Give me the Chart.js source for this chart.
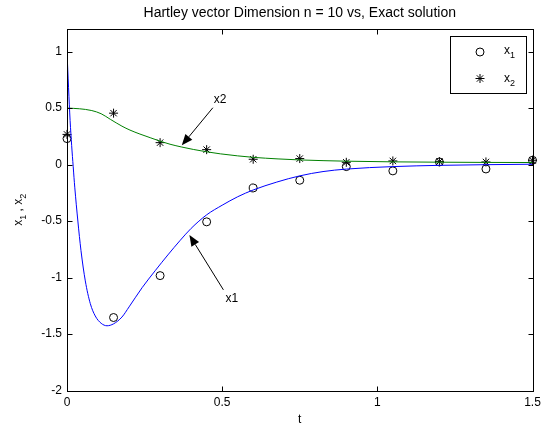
<!DOCTYPE html>
<html><head><meta charset="utf-8">
<script src="https://cdn.jsdelivr.net/npm/chart.js@4.4.1/dist/chart.umd.min.js"></script>
<style>html,body{margin:0;padding:0;background:#fff;}#wrap{width:547px;height:426px;}</style>
</head><body><div id="wrap"><canvas id="c" width="547" height="426"></canvas></div>
<script>
const chartTitle = 'Hartley vector Dimension n = 10 vs, Exact solution';
const xAxisLabel = 't';
const xTicks = [0, 0.5, 1, 1.5];
const yTicks = [-2, -1.5, -1, -0.5, 0, 0.5, 1];
const xRange = [0, 1.5];
const yRange = [-2, 1.2];

// Hartley approximation samples (markers)
const tSamples = [0, 0.15, 0.3, 0.45, 0.6, 0.75, 0.9, 1.05, 1.2, 1.35, 1.5];
const x1Approx = [0.23, -1.354, -0.983, -0.507, -0.207, -0.139, -0.018, -0.056, 0.023, -0.039, 0.038];
const x2Approx = [0.267, 0.455, 0.194, 0.132, 0.047, 0.053, 0.02, 0.032, 0.026, 0.023, 0.038];

// Exact solution curves
const tExact1 = [0, 0.005, 0.01, 0.015, 0.02, 0.025, 0.035, 0.045, 0.059, 0.075, 0.091, 0.11, 0.129, 0.15, 0.177, 0.2, 0.242, 0.284, 0.325, 0.365, 0.4, 0.45, 0.5, 0.55, 0.6, 0.676, 0.75, 0.825, 0.9, 1.05, 1.2, 1.35, 1.5];
const x1Exact = [1.0, 0.68, 0.39, 0.17, -0.02, -0.2, -0.5, -0.76, -1.03, -1.23, -1.34, -1.405, -1.427, -1.41, -1.35, -1.26, -1.09, -0.94, -0.8, -0.67, -0.565, -0.445, -0.36, -0.285, -0.225, -0.155, -0.1, -0.062, -0.04, -0.018, -0.007, -0.001, 0.003];
const tExact2 = [0, 0.04, 0.08, 0.11, 0.14, 0.177, 0.203, 0.235, 0.268, 0.3, 0.332, 0.37, 0.407, 0.45, 0.494, 0.55, 0.6, 0.68, 0.75, 0.9, 1.05, 1.2, 1.35, 1.5];
const x2Exact = [0.5, 0.494, 0.478, 0.45, 0.40, 0.34, 0.305, 0.27, 0.238, 0.207, 0.18, 0.155, 0.134, 0.113, 0.095, 0.077, 0.064, 0.05, 0.041, 0.03, 0.024, 0.021, 0.019, 0.018];

const seriesNames = ['x1', 'x2'];
const annotations = [
  {text: 'x2', label: [0.4935, 0.576], tail: [0.47, 0.503], tip: [0.37, 0.17]},
  {text: 'x1', label: [0.531, -1.183], tail: [0.504, -1.109], tip: [0.3945, -0.624]}
];

const FONT = "'Liberation Sans', Arial, Helvetica, sans-serif";
const pts = (xs, ys) => xs.map((v, i) => ({x: v, y: ys[i]}));

function drawSubText(ctx, parts, x, y, align) {
  const main = '12px ' + FONT, sub = '9px ' + FONT;
  let w = 0;
  parts.forEach(p => { ctx.font = p[1] ? sub : main; w += ctx.measureText(p[0]).width; });
  let cx = align === 'center' ? x - w / 2 : x;
  ctx.textAlign = 'left'; ctx.textBaseline = 'alphabetic';
  parts.forEach(p => {
    ctx.font = p[1] ? sub : main;
    ctx.fillText(p[0], cx, y + (p[1] ? 4 : 0));
    cx += ctx.measureText(p[0]).width;
  });
}

function drawStar(ctx, x, y, r) {
  ctx.beginPath();
  ctx.moveTo(x - r, y); ctx.lineTo(x + r, y);
  ctx.moveTo(x, y - r); ctx.lineTo(x, y + r);
  const d = r * Math.SQRT1_2;
  ctx.moveTo(x - d, y - d); ctx.lineTo(x + d, y + d);
  ctx.moveTo(x - d, y + d); ctx.lineTo(x + d, y - d);
  ctx.stroke();
}

const decor = {
  id: 'decor',
  afterDraw(chart) {
    const {ctx, chartArea: a, scales: {x, y}} = chart;
    ctx.save();
    ctx.strokeStyle = '#000'; ctx.fillStyle = '#000'; ctx.lineWidth = 1;
    const L = Math.round(a.left) + 0.5, R = Math.round(a.right) + 0.5;
    const T = Math.round(a.top) + 0.5, B = Math.round(a.bottom) + 0.5;
    ctx.strokeRect(L, T, R - L, B - T);
    const tl = 5;
    ctx.beginPath();
    xTicks.forEach(v => {
      const px = Math.round(x.getPixelForValue(v)) + 0.5;
      ctx.moveTo(px, B); ctx.lineTo(px, B - tl);
      ctx.moveTo(px, T); ctx.lineTo(px, T + tl);
    });
    yTicks.forEach(v => {
      const py = Math.round(y.getPixelForValue(v)) + 0.5;
      ctx.moveTo(L, py); ctx.lineTo(L + tl, py);
      ctx.moveTo(R, py); ctx.lineTo(R - tl, py);
    });
    ctx.stroke();

    ctx.font = '14px ' + FONT;
    ctx.textAlign = 'center'; ctx.textBaseline = 'alphabetic';
    ctx.fillText(chartTitle, (a.left + a.right) / 2, 17);
    ctx.font = '12px ' + FONT;
    ctx.fillText(xAxisLabel, (a.left + a.right) / 2, 423);
    ctx.save();
    ctx.translate(22, (a.top + a.bottom) / 2);
    ctx.rotate(-Math.PI / 2);
    drawSubText(ctx, [['x', 0], ['1', 1], [' , ', 0], ['x', 0], ['2', 1]], 0, 0, 'center');
    ctx.restore();

    annotations.forEach(an => {
      const tx = x.getPixelForValue(an.tail[0]), ty = y.getPixelForValue(an.tail[1]);
      const hx = x.getPixelForValue(an.tip[0]), hy = y.getPixelForValue(an.tip[1]);
      const ang = Math.atan2(hy - ty, hx - tx);
      const hl = 11, hw = 4.5;
      const bx = hx - hl * Math.cos(ang), by = hy - hl * Math.sin(ang);
      ctx.beginPath(); ctx.moveTo(tx, ty); ctx.lineTo(bx, by); ctx.stroke();
      ctx.beginPath();
      ctx.moveTo(hx, hy);
      ctx.lineTo(bx + hw * Math.sin(ang), by - hw * Math.cos(ang));
      ctx.lineTo(bx - hw * Math.sin(ang), by + hw * Math.cos(ang));
      ctx.closePath(); ctx.fill();
      ctx.font = '12px ' + FONT;
      ctx.textAlign = 'center'; ctx.textBaseline = 'middle';
      ctx.fillText(an.text, x.getPixelForValue(an.label[0]), y.getPixelForValue(an.label[1]));
    });

    ctx.strokeRect(450.5, 36.5, 76, 57);
    ctx.beginPath(); ctx.arc(480, 52, 4, 0, Math.PI * 2); ctx.stroke();
    drawStar(ctx, 480, 78.5, 4.5);
    drawSubText(ctx, [['x', 0], ['1', 1]], 504, 54, 'left');
    drawSubText(ctx, [['x', 0], ['2', 1]], 504, 82, 'left');
    ctx.restore();
  }
};

new Chart(document.getElementById('c'), {
  type: 'scatter',
  data: {
    datasets: [
      {label: seriesNames[0] + ' exact', data: pts(tExact1, x1Exact), showLine: true, borderColor: '#0000ff', borderWidth: 1, pointRadius: 0, cubicInterpolationMode: 'monotone', order: 0},
      {label: seriesNames[1] + ' exact', data: pts(tExact2, x2Exact), showLine: true, borderColor: '#008000', borderWidth: 1, pointRadius: 0, cubicInterpolationMode: 'monotone', order: 0},
      {label: seriesNames[0], data: pts(tSamples, x1Approx), showLine: false, pointStyle: 'circle', pointRadius: 4, borderColor: '#000', backgroundColor: 'rgba(0,0,0,0)', pointBorderWidth: 1, clip: false, order: 1},
      {label: seriesNames[1], data: pts(tSamples, x2Approx), showLine: false, pointStyle: 'star', pointRadius: 4.5, borderColor: '#000', backgroundColor: '#000', pointBorderWidth: 1, clip: false, order: 1}
    ]
  },
  options: {
    responsive: false, animation: false, devicePixelRatio: 1,
    layout: {padding: {left: 0, right: 14.5, top: 29, bottom: 0}},
    plugins: {legend: {display: false}, title: {display: false}, tooltip: {enabled: false}},
    scales: {
      x: {
        type: 'linear', min: xRange[0], max: xRange[1],
        grid: {display: false, drawTicks: false}, border: {display: false},
        afterBuildTicks: s => { s.ticks = xTicks.map(v => ({value: v})); },
        afterFit: s => { s.height = 35.5; },
        ticks: {color: '#000', padding: 5, maxRotation: 0, font: {family: FONT, size: 12}, callback: v => String(v)}
      },
      y: {
        type: 'linear', min: yRange[0], max: yRange[1],
        grid: {display: false, drawTicks: false}, border: {display: false},
        afterBuildTicks: s => { s.ticks = yTicks.map(v => ({value: v})); },
        afterFit: s => { s.width = 67; },
        ticks: {color: '#000', padding: 5, font: {family: FONT, size: 12}, callback: v => String(v)}
      }
    }
  },
  plugins: [decor]
});
</script></body></html>
